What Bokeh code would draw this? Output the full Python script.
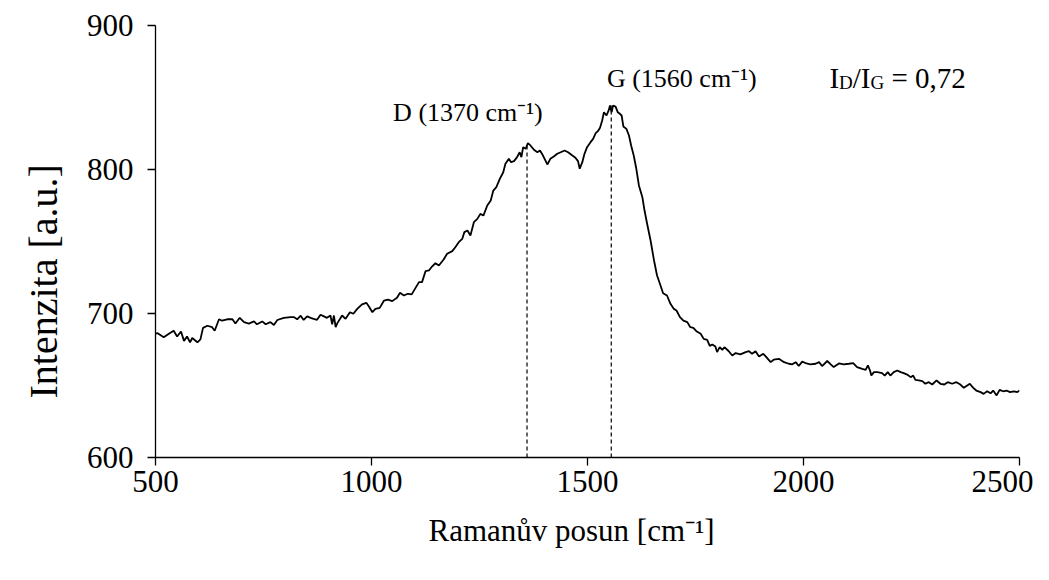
from bokeh.plotting import figure
from bokeh.models import Range1d, FixedTicker, Label, ColumnDataSource, Title
from bokeh.embed import file_html
from bokeh.resources import INLINE

# Raman spectrum
shift = [500, 505, 519, 531, 542, 550, 559, 566, 573, 580, 585, 597, 604, 610, 620, 631, 637, 647, 654, 666,
         678, 685, 695, 705, 716, 728, 735, 747, 755, 766, 774, 782, 797, 813, 820, 828, 836, 843, 851, 859,
         866, 874, 882, 890, 897, 905, 909, 913, 917, 921, 932, 940, 950, 958, 967, 978, 988, 994, 1002, 1009,
         1019, 1029, 1038, 1048, 1059, 1066, 1075, 1084, 1093, 1102, 1110, 1117, 1125, 1133, 1140, 1148, 1156, 1167, 1175, 1187,
         1194, 1202, 1210, 1215, 1222, 1229, 1237, 1245, 1252, 1259, 1268, 1276, 1282, 1289, 1297, 1305, 1310, 1318, 1323, 1330,
         1337, 1343, 1347, 1351, 1357, 1362, 1368, 1376, 1384, 1390, 1397, 1407, 1414, 1422, 1430, 1438, 1447, 1455, 1465, 1472,
         1478, 1482, 1488, 1493, 1499, 1507, 1513, 1519, 1524, 1529, 1534, 1538, 1544, 1549, 1552, 1556, 1559, 1565, 1570, 1575,
         1579, 1583, 1590, 1596, 1601, 1607, 1613, 1619, 1627, 1632, 1638, 1646, 1654, 1661, 1669, 1675, 1684, 1692, 1700, 1706,
         1714, 1722, 1731, 1738, 1745, 1752, 1762, 1769, 1777, 1783, 1789, 1796, 1800, 1806, 1812, 1817, 1827, 1835, 1843, 1854,
         1866, 1874, 1881, 1889, 1897, 1907, 1914, 1924, 1931, 1943, 1955, 1966, 1974, 1982, 1989, 1997, 2007, 2016, 2028, 2036,
         2043, 2055, 2063, 2070, 2082, 2093, 2105, 2115, 2124, 2136, 2144, 2149, 2154, 2157, 2163, 2171, 2182, 2188, 2195, 2201,
         2209, 2217, 2225, 2232, 2240, 2248, 2254, 2259, 2267, 2275, 2282, 2290, 2298, 2308, 2317, 2326, 2334, 2344, 2354, 2363,
         2371, 2379, 2385, 2393, 2400, 2410, 2417, 2425, 2433, 2439, 2447, 2454, 2462, 2470, 2478, 2487, 2495, 2500]
intensity = [686.0, 686.3, 683.5, 686.0, 688.0, 684.0, 687.5, 681.0, 684.0, 680.0, 683.0, 680.0, 682.0, 690.0, 691.5, 690.5, 688.0, 696.0, 695.0, 696.0,
             696.0, 693.0, 697.0, 694.0, 693.0, 694.5, 692.5, 694.5, 692.5, 694.0, 692.0, 695.5, 697.0, 697.5, 697.5, 696.0, 698.5, 695.5, 698.0, 697.0,
             696.3, 695.6, 699.1, 698.0, 697.0, 698.6, 692.4, 698.6, 690.5, 693.3, 698.6, 696.3, 700.9, 699.8, 703.2, 706.3, 707.4, 704.9, 700.9, 703.2,
             703.9, 709.0, 709.7, 708.6, 710.9, 714.4, 712.5, 713.7, 713.3, 717.8, 721.8, 721.8, 729.4, 729.9, 732.6, 734.9, 733.3, 737.5, 741.5, 743.3,
             746.0, 749.5, 751.8, 756.5, 757.6, 754.2, 763.4, 765.7, 769.2, 768.0, 775.0, 778.5, 785.4, 787.7, 793.5, 798.1, 804.0, 807.4, 805.1, 805.8,
             808.6, 812.0, 808.6, 815.5, 814.4, 818.3, 816.7, 813.7, 812.0, 813.2, 809.7, 803.5, 807.4, 809.0, 810.9, 812.0, 813.2, 812.0, 809.7, 808.2,
             805.8, 800.5, 805.1, 810.9, 815.5, 819.0, 821.3, 825.2, 826.6, 829.0, 834.0, 839.8, 837.5, 841.0, 844.4, 839.8, 844.4, 843.7, 839.8, 838.7,
             837.5, 829.9, 828.2, 823.6, 816.7, 809.7, 800.5, 788.9, 780.8, 771.5, 762.3, 750.7, 736.8, 726.4, 719.4, 714.1, 712.5, 706.7, 703.2, 702.1,
             697.5, 695.1, 694.0, 690.5, 690.0, 687.7, 685.9, 682.4, 681.7, 677.5, 678.5, 677.1, 673.2, 676.6, 674.7, 676.6, 673.8, 670.8, 672.5, 671.6,
             673.2, 673.8, 672.0, 673.8, 670.1, 672.0, 669.7, 666.2, 667.9, 668.5, 666.2, 665.1, 664.7, 666.2, 663.5, 666.6, 665.3, 664.7, 665.1, 666.2,
             663.5, 667.0, 664.7, 662.8, 665.3, 664.7, 665.1, 665.6, 662.8, 661.6, 660.9, 664.0, 660.4, 656.9, 659.3, 659.3, 658.6, 656.9, 659.3, 656.9,
             659.3, 660.4, 659.3, 658.6, 657.6, 655.8, 656.9, 653.9, 653.5, 653.0, 651.2, 652.3, 650.7, 653.5, 651.2, 650.7, 652.3, 651.2, 652.3, 650.7,
             648.4, 650.0, 651.2, 648.4, 646.5, 645.4, 644.2, 646.0, 644.6, 646.5, 643.1, 647.0, 646.0, 646.5, 645.4, 646.0, 645.4, 646.5]

# Peak markers (dashed lines)
peak_pos = [1360, 1555]
peak_top = [818.3, 844.4]

x_ticks = [500, 1000, 1500, 2000, 2500]
y_ticks = [600, 700, 800, 900]

FONT = "Liberation Serif"

p = figure(width=1033, height=564, x_range=Range1d(500, 2500), y_range=Range1d(600, 900),
           output_backend="svg", toolbar_location=None,
           min_border_left=155, min_border_right=14, min_border_top=25, min_border_bottom=107)
p.outline_line_color = None
p.grid.visible = False
p.background_fill_color = "white"
p.border_fill_color = "white"

for ax in (p.xaxis[0], p.yaxis[0]):
    ax.axis_line_color = "black"
    ax.axis_line_width = 1.3
    ax.major_tick_line_color = "black"
    ax.major_tick_line_width = 1.3
    ax.major_tick_out = 8
    ax.major_tick_in = 0
    ax.minor_tick_line_color = None
    ax.major_label_text_font = FONT
    ax.major_label_text_font_size = "31px"
    ax.major_label_text_color = "black"

p.xaxis.ticker = FixedTicker(ticks=x_ticks)
p.yaxis.ticker = FixedTicker(ticks=y_ticks)
p.xaxis.major_label_standoff = 5
p.yaxis.major_label_standoff = 14

# axis titles as side titles (can be offset along the axis)
xt = Title(text="Ramanův posun [cm⁻¹]", align="left", offset=273, standoff=32,
           text_font=FONT, text_font_size="31px", text_font_style="normal", text_color="black")
yt = Title(text="Intenzita [a.u.]", align="left", offset=59, standoff=36,
           text_font=FONT, text_font_size="40px", text_font_style="normal", text_color="black")
p.add_layout(xt, "below")
p.add_layout(yt, "left")

src = ColumnDataSource(dict(x=shift, y=intensity))
p.line("x", "y", source=src, line_color="black", line_width=1.8)

p.segment(x0=peak_pos, y0=[600, 600], x1=peak_pos, y1=peak_top,
          line_color="black", line_width=1.2, line_dash="4 3")

def lab(x, y, text, size, xo=0, yo=0):
    p.add_layout(Label(x=x, y=y, text=text, x_offset=xo, y_offset=yo,
                       text_font=FONT, text_font_size=size, text_color="black",
                       text_baseline="alphabetic", text_align="left"))

# peak labels
lab(1050, 839.5, "D (1370 cm⁻¹)", "26px")
lab(1545, 863.5, "G (1560 cm⁻¹)", "26px")

# I_D / I_G = 0,72 with subscripts
big, small = 29, 19
x0, y0 = 2060, 863.5
off = 0.0
lab(x0, y0, "I", f"{big}px", off, 0); off += 0.333 * big
lab(x0, y0, "D", f"{small}px", off, -4); off += 0.722 * small
lab(x0, y0, "/I", f"{big}px", off, 0); off += 0.611 * big
lab(x0, y0, "G", f"{small}px", off, -4); off += 0.722 * small + 0.25 * big
lab(x0, y0, "= 0,72", f"{big}px", off, 0)

open("out.html", "w").write(file_html(p, INLINE))
